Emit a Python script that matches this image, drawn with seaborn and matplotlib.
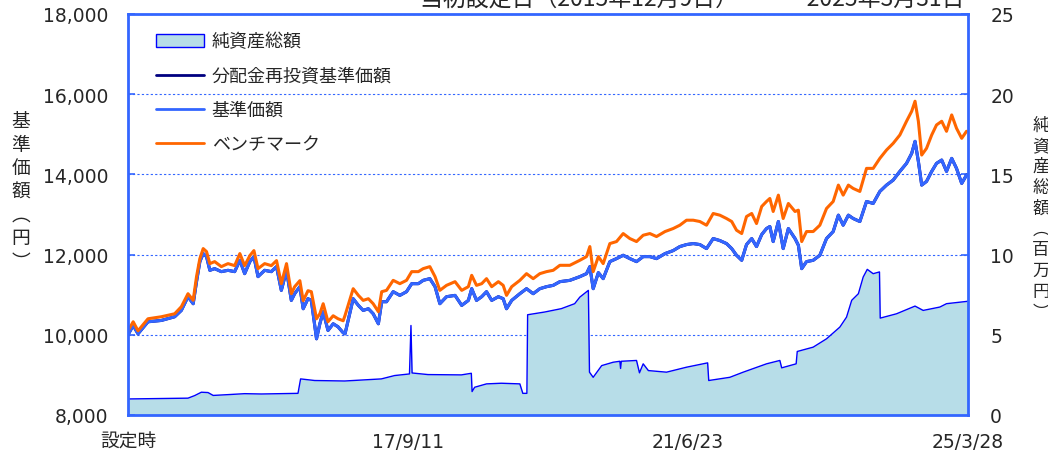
import numpy as np
import pandas as pd
import matplotlib
matplotlib.use('Agg')
import matplotlib.pyplot as plt
import seaborn as sns
from matplotlib.patches import Patch
from matplotlib.lines import Line2D

sns.set_style('white')
plt.rcParams['font.family'] = ['DejaVu Sans', 'Noto Sans CJK JP']

# ---------------- data (trading-day index from inception) ----------------
price_days = [0, 14, 27, 54, 90, 126, 144, 162, 176, 185, 194, 203, 212, 221, 234, 252, 270, 288, 302, 315,
              329, 340, 351, 369, 387, 401, 414, 428, 441, 450, 464, 473, 486, 495, 509, 518, 527, 540, 554, 567,
              581,
              586, 608, 622, 635, 649, 662, 676, 685, 698, 716, 734, 752, 766, 784, 797, 815, 829, 842, 860,
              883, 901, 919, 928, 941, 955, 968, 982, 1000, 1013, 1022, 1036, 1058, 1076, 1094, 1112, 1130, 1148, 1166,
              1193, 1220, 1238, 1247, 1256, 1270, 1283, 1301, 1319, 1337, 1355, 1373, 1391, 1409, 1427, 1450, 1472,
              1490, 1508, 1526, 1544, 1562, 1580, 1598, 1616, 1630, 1643, 1657, 1670, 1684, 1697, 1711, 1724, 1733,
              1742, 1756, 1769, 1783, 1801, 1810, 1819, 1832, 1850, 1868, 1886, 1904, 1918, 1931, 1945, 1958, 1976,
              1994, 2012, 2030, 2048, 2066, 2084, 2102, 2116, 2125, 2134, 2143, 2156, 2170, 2183, 2197, 2210, 2224,
              2237, 2251, 2264]

benchmark = [10100, 10325, 10100, 10400, 10450, 10525, 10700, 11025, 10860, 11450, 11900, 12150, 12075, 11775,
             11825, 11700, 11775, 11725, 12025, 11725, 11975, 12100, 11650, 11775, 11725, 11850, 11275, 11775,
             11025, 11200, 11350, 10850, 11100, 11075, 10400, 10525, 10775, 10325, 10475, 10400, 10350,
             10483, 11150, 10983, 10858, 10900, 10775, 10575, 11075, 11108, 11358, 11275, 11358, 11575, 11575,
             11650, 11700, 11450, 11108, 11233, 11325, 11108, 11200, 11483, 11233, 11275, 11400, 11200, 11325,
             11233, 10983, 11200, 11358, 11525, 11400, 11525, 11575, 11608, 11733,
             11733, 11858, 11950, 12200, 11575, 11950, 11775, 12275, 12325, 12525, 12400, 12325, 12483, 12525,
             12450, 12575, 12650, 12733, 12858, 12858, 12825, 12733, 13025, 12983, 12900, 12825, 12608, 12525,
             12950, 13025, 12775, 13200, 13325, 13400,
             13075, 13483, 12900, 13275, 13075, 13108, 12325, 12575, 12575, 12733, 13150, 13325, 13733, 13483,
             13733, 13650, 13575, 14150, 14150, 14400, 14608, 14775, 14983, 15325, 15575, 15825, 15325, 14483,
             14650, 14983, 15233, 15325, 15075, 15483, 15150, 14900, 15075]

nav = [10000, 10233, 10025, 10325, 10358, 10450, 10608, 10950, 10775, 11325, 11825, 12025, 11950, 11608,
       11650, 11575, 11608, 11575, 11858, 11525, 11825, 11950, 11450, 11608, 11575, 11700, 11108, 11608,
       10858, 11025, 11200, 10650, 10900, 10858, 9900, 10275, 10575, 10108, 10275, 10200, 10050,
       10025, 10900, 10733, 10608, 10650, 10525, 10275, 10825, 10825, 11075, 10983, 11075, 11275, 11275,
       11358, 11400, 11200, 10775, 10950, 10983, 10733, 10858, 11150, 10858, 10950, 11075, 10858, 10950,
       10900, 10650, 10858, 11025, 11150, 11025, 11150, 11200, 11233, 11325,
       11358, 11450, 11525, 11700, 11150, 11550, 11400, 11825, 11900, 11983, 11900, 11825, 11950, 11950,
       11900, 12025, 12100, 12200, 12250, 12275, 12250, 12150, 12400, 12350, 12275, 12150, 11983, 11858,
       12250, 12400, 12200, 12500, 12650, 12700,
       12325, 12825, 12150, 12650, 12400, 12233, 11650, 11825, 11858, 11983, 12400, 12575, 12983, 12733,
       12983, 12900, 12825, 13325, 13275, 13575, 13733, 13858, 14075, 14275, 14525, 14825, 14325, 13733,
       13825, 14075, 14275, 14358, 14075, 14400, 14150, 13775, 13983]

reinvest_nav = list(nav)  # no distributions paid -> identical to NAV

na_days = [0, 162, 180, 198, 216, 230, 270, 315, 360, 459, 466, 504, 585, 684, 720, 760, 764, 767, 810, 900,
           927, 929, 936, 968, 1008, 1058, 1066, 1077, 1079, 1125, 1170, 1206, 1220, 1243, 1246, 1256, 1279,
           1310, 1328, 1330, 1332, 1373, 1381, 1391, 1405, 1454, 1508, 1565, 1568, 1625, 1661, 1724, 1760,
           1765, 1804, 1807, 1850, 1886, 1922, 1940, 1954, 1972, 1985, 1996, 2012, 2029, 2031, 2075, 2125,
           2147, 2192, 2210, 2264, 2268]
net_assets = [1.0, 1.05, 1.21, 1.42, 1.40, 1.22, 1.27, 1.33, 1.31, 1.35, 2.25, 2.15, 2.12, 2.25, 2.46, 2.56,
              5.58, 2.62, 2.52, 2.50, 2.60, 1.46, 1.73, 1.94, 1.98, 1.94, 1.35, 1.35, 6.25, 6.42, 6.63, 6.94,
              7.35, 7.77, 2.67, 2.35, 3.08, 3.29, 3.35, 2.90, 3.35, 3.40, 2.63, 3.19, 2.77, 2.67, 2.98, 3.25,
              2.15, 2.35, 2.67, 3.19, 3.40, 2.94, 3.19, 3.96, 4.23, 4.75, 5.48, 6.10, 7.15, 7.56, 8.60, 9.08,
              8.81, 8.92, 6.04, 6.31, 6.79, 6.52, 6.73, 6.94, 7.08, 7.10]

tick_pos = [0, 756, 1512, 2268]
tick_labels = ['設定時', '17/9/11', '21/6/23', '25/3/28']
left_ticks = [8000, 10000, 12000, 14000, 16000, 18000]
right_ticks = [0, 5, 10, 15, 20, 25]
series_labels = ['純資産総額', '分配金再投資基準価額', '基準価額', 'ベンチマーク']
title = '当初設定日（2015年12月9日）　～　2025年3月31日'
left_label = '基準価額︵円︶'
right_label = '純資産総額︵百万円︶'

# ---------------- styling ----------------
BLUE = '#3366ff'
NAVY = '#000080'
ORANGE = '#ff6600'
FILL = '#b7dde8'
EDGE = '#0000ff'
JP = ['Noto Sans CJK JP', 'DejaVu Sans']

W, H = 1048, 464
fig = plt.figure(figsize=(W / 100, H / 100), dpi=100)
ax = fig.add_axes([128 / W, 48 / H, 840 / W, 401 / H])
ax2 = ax.twinx()
ax.set_zorder(ax2.get_zorder() + 1)
ax.patch.set_visible(False)

# net assets (right axis, behind)
ax2.fill_between(na_days, net_assets, 0, color=FILL, lw=0, zorder=2)
sns.lineplot(x=na_days, y=net_assets, ax=ax2, color=EDGE, lw=1.0, estimator=None, sort=False, zorder=3)
ax2.set_ylim(0, 25)
ax2.set_yticks(right_ticks)
ax2.set_yticklabels([str(v) for v in right_ticks])
ax2.set_axisbelow(True)
ax2.grid(axis='y', color=BLUE, ls=(0, (2, 2)), lw=0.8, zorder=1)
ax2.grid(axis='x', visible=False)
ax2.tick_params(axis='y', direction='in', length=5, color=BLUE, width=1.2, labelsize=13.5, pad=16)
for s in ax2.spines.values():
    s.set_visible(False)
ax2.set_ylabel('')

# price lines (left axis, front)
sns.lineplot(x=price_days, y=reinvest_nav, ax=ax, color=NAVY, lw=2.2, estimator=None, sort=False)
sns.lineplot(x=price_days, y=nav, ax=ax, color=BLUE, lw=2.2, estimator=None, sort=False)
sns.lineplot(x=price_days, y=benchmark, ax=ax, color=ORANGE, lw=2.2, estimator=None, sort=False)
ax.set_xlim(0, 2268)
ax.set_ylim(8000, 18000)
ax.set_yticks(left_ticks)
ax.set_yticklabels([f'{v:,}' for v in left_ticks])
ax.set_xticks(tick_pos)
ax.set_xticklabels(tick_labels)
ax.tick_params(axis='y', direction='in', length=5, color=BLUE, width=1.2, labelsize=13.5, pad=14)
ax.tick_params(axis='x', direction='in', length=5, color=BLUE, width=1.2, labelsize=13.5, pad=12)
ax.set_xlabel('')
ax.set_ylabel('')
ax.grid(False)
for s in ax.spines.values():
    s.set_visible(True)
    s.set_color(BLUE)
    s.set_linewidth(2)

# legend
handles = [Patch(facecolor=FILL, edgecolor=EDGE, lw=1),
           Line2D([], [], color=NAVY, lw=2),
           Line2D([], [], color=BLUE, lw=2),
           Line2D([], [], color=ORANGE, lw=2)]
ax.legend(handles, series_labels, loc='upper left', bbox_to_anchor=(152 / W, 1 - 30 / H),
          bbox_transform=fig.transFigure, frameon=False, prop={'family': JP, 'size': 13},
          handlelength=2.7, handletextpad=0.4, labelspacing=0.9, borderaxespad=0, borderpad=0.2)

# axis titles (stacked vertically) and header
fig.text(21 / W, 1 - 192 / H, '\n'.join(left_label), ha='center', va='center',
         fontsize=13.5, linespacing=1.15, family=JP)
fig.text(1041 / W, 1 - 219 / H, '\n'.join(right_label), ha='center', va='center',
         fontsize=12.5, linespacing=1.2, family=JP)
fig.text(692 / W, 1.0, title, ha='center', va='center', fontsize=16.5, family=JP)

fig.savefig('out.png', dpi=100)
